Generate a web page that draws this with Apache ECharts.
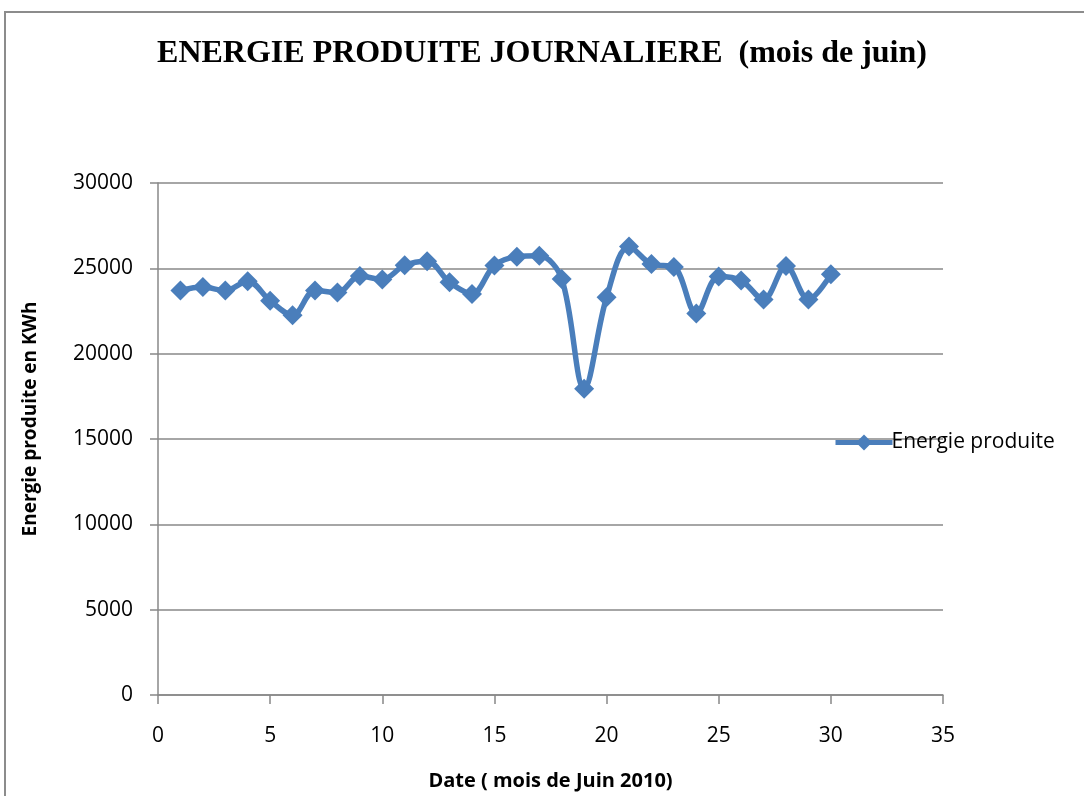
<!DOCTYPE html>
<html>
<head>
<meta charset="utf-8">
<script src="https://cdn.jsdelivr.net/npm/echarts@6/dist/echarts.min.js"></script>
<style>
  html, body { margin: 0; padding: 0; background: #fff; }
  #chart { width: 1084px; height: 796px; }
</style>
</head>
<body>
<div id="chart"></div>
<script>
// jours du mois de juin 2010
var days = [1, 2, 3, 4, 5, 6, 7, 8, 9, 10, 11, 12, 13, 14, 15, 16, 17, 18, 19, 20, 21, 22, 23, 24, 25, 26, 27, 28, 29, 30];
// energie produite (KWh)
var energie = [23700, 23900, 23700, 24250, 23100, 22250, 23700, 23580, 24550, 24350,
               25180, 25420, 24180, 23500, 25170, 25680, 25730, 24380, 17950, 23300,
               26280, 25250, 25080, 22360, 24520, 24290, 23180, 25140, 23180, 24650];
var xTicks = [0, 5, 10, 15, 20, 25, 30, 35];
var yTicks = [0, 5000, 10000, 15000, 20000, 25000, 30000];

var serieData = days.map(function (d, i) {
  return [d, energie[i]];
});

var myChart = echarts.init(document.getElementById("chart"));

var option = {
  backgroundColor: "#fff",
  animation: false,
  title: {
    text: "ENERGIE PRODUITE JOURNALIERE  (mois de juin)",
    left: "center",
    top: 33,
    textStyle: {
      fontFamily: "Liberation Serif",
      fontWeight: "bold",
      fontSize: 32,
      color: "#000"
    }
  },
  graphic: [
    {
      type: "rect",
      shape: { x: 5, y: 12, width: 1200, height: 900 },
      style: { fill: "none", stroke: "#8c8c8c", lineWidth: 2 },
      silent: true
    },
    {
      // titre de l'axe vertical
      type: "text",
      x: 31,
      y: 419,
      rotation: Math.PI / 2,
      style: {
        text: "Energie produite en KWh",
        fontFamily: "Open Sans",
        fontWeight: "bold",
        fontSize: 19,
        fill: "#000",
        align: "center",
        verticalAlign: "middle"
      }
    }
  ],
  legend: {
    data: ["Energie produite"],
    left: 828,
    top: 427,
    itemWidth: 57,
    itemHeight: 20,
    itemGap: 4,
    lineStyle: { width: 5 },
    textStyle: { fontFamily: "Open Sans", fontSize: 21, color: "#000", padding: [0, 0, 0, -6] }
  },
  grid: {
    left: 158,
    width: 785,
    top: 183,
    height: 520,
    containLabel: false
  },
  xAxis: {
    type: "value",
    min: xTicks[0],
    max: xTicks[xTicks.length - 1],
    interval: 5,
    name: "Date ( mois de Juin 2010)",
    nameLocation: "middle",
    nameGap: 76,
    nameTextStyle: { fontFamily: "Open Sans", fontWeight: "bold", fontSize: 20, color: "#000" },
    axisLine: { show: true, onZero: false, lineStyle: { color: "#888", width: 1.5 } },
    axisTick: { show: true, length: 9, lineStyle: { color: "#888", width: 1.5 } },
    axisLabel: { margin: 31, fontFamily: "Open Sans", fontSize: 21, color: "#000" },
    splitLine: { show: false }
  },
  yAxis: {
    type: "value",
    min: yTicks[0],
    max: yTicks[yTicks.length - 1],
    interval: 5000,
    axisLine: { show: true, lineStyle: { color: "#888", width: 1.5 } },
    axisTick: { show: true, length: 8, lineStyle: { color: "#888", width: 1.5 } },
    axisLabel: {
      margin: 25,
      fontFamily: "Open Sans",
      fontSize: 21,
      color: "#000",
      formatter: function (v) { return String(v); }
    },
    splitLine: { show: true, lineStyle: { color: "#888", width: 1.5 } }
  },
  series: [
    {
      name: "Energie produite",
      type: "line",
      smooth: 0.35,
      symbol: "diamond",
      symbolSize: 20,
      itemStyle: { color: "#4a7ebb" },
      lineStyle: { color: "#4a7ebb", width: 5.5 },
      data: serieData
    }
  ]
};

myChart.setOption(option);
</script>
</body>
</html>
